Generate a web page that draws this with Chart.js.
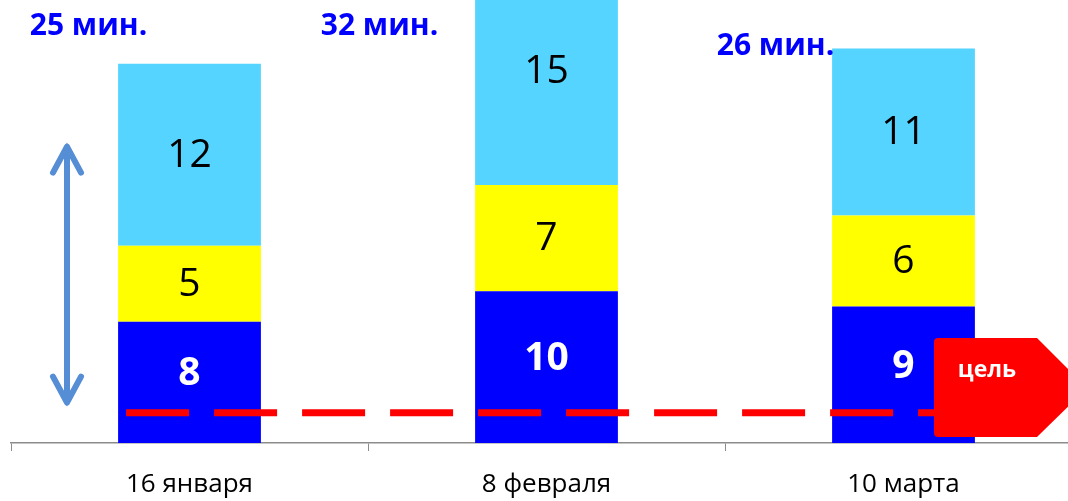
<!DOCTYPE html>
<html lang="ru">
<head>
<meta charset="UTF-8">
<title>Время</title>
<script src="https://cdnjs.cloudflare.com/ajax/libs/Chart.js/4.4.1/chart.umd.min.js"></script>
<style>
    body { margin: 0; background: #fff; overflow: hidden; }
    .wrap { width: 1082px; height: 501px; position: relative; }
</style>
</head>
<body>
<div class="wrap"><canvas id="chart"></canvas></div>
<script>
// Data
const dates = ['16 января', '8 февраля', '10 марта'];
const partA = [8, 10, 9];    // синий
const partB = [5, 7, 6];     // жёлтый
const partC = [12, 15, 11];  // голубой
const totals = [25, 32, 26];
const goal = 2;
const arrowRange = [2.4, 19.8];

const FONT = '"Open Sans", "Noto Sans", sans-serif';

// labels, goal line, arrow and the "цель" tag
const decor = {
    id: 'decor',
    afterDatasetsDraw(chart) {
        const ctx = chart.ctx;
        const y = chart.scales.y;

        // segment values (centre of the unclipped segment)
        chart.data.datasets.forEach((ds, di) => {
            chart.getDatasetMeta(di).data.forEach((bar, i) => {
                const cy = (bar.y + bar.base) / 2 + (di === 0 ? -8 : 1);
                ctx.save();
                ctx.font = (di === 0 ? 'bold ' : '') + '39px ' + FONT;
                ctx.fillStyle = di === 0 ? '#fff' : '#000';
                ctx.textAlign = 'center';
                ctx.textBaseline = 'middle';
                ctx.fillText(ds.data[i], bar.x, cy);
                ctx.restore();
            });
        });

        // totals
        const dx = [-101, -167, -128];
        const ty = [26, 26, 46];
        const meta = chart.getDatasetMeta(0);
        totals.forEach((t, i) => {
            ctx.save();
            ctx.font = 'bold 30px ' + FONT;
            ctx.fillStyle = '#0000ff';
            ctx.textAlign = 'center';
            ctx.textBaseline = 'middle';
            ctx.fillText(t + ' мин.', meta.data[i].x + dx[i], ty[i]);
            ctx.restore();
        });

        // goal line
        const first = meta.data[0];
        const gy = y.getPixelForValue(goal);
        ctx.save();
        ctx.strokeStyle = '#ff0000';
        ctx.lineWidth = 7;
        ctx.setLineDash([63, 25]);
        ctx.beginPath();
        ctx.moveTo(first.x - first.width / 2 + 8, gy);
        ctx.lineTo(1000, gy);
        ctx.stroke();
        ctx.restore();

        // double arrow
        const ax = 67;
        const a1 = y.getPixelForValue(arrowRange[1]);
        const a0 = y.getPixelForValue(arrowRange[0]);
        ctx.save();
        ctx.strokeStyle = '#558ed5';
        ctx.fillStyle = '#558ed5';
        ctx.lineWidth = 6;
        ctx.lineCap = 'round';
        ctx.lineJoin = 'round';
        ctx.beginPath();
        ctx.moveTo(ax, a1 + 6);
        ctx.lineTo(ax, a0 - 6);
        ctx.moveTo(ax - 14, a1 + 30);
        ctx.lineTo(ax, a1 + 4);
        ctx.lineTo(ax + 14, a1 + 30);
        ctx.moveTo(ax - 14, a0 - 30);
        ctx.lineTo(ax, a0 - 4);
        ctx.lineTo(ax + 14, a0 - 30);
        ctx.stroke();
        ctx.beginPath();
        ctx.moveTo(ax, a1);
        ctx.lineTo(ax - 7, a1 + 16);
        ctx.lineTo(ax + 7, a1 + 16);
        ctx.closePath();
        ctx.moveTo(ax, a0);
        ctx.lineTo(ax - 7, a0 - 16);
        ctx.lineTo(ax + 7, a0 - 16);
        ctx.closePath();
        ctx.fill();
        ctx.restore();

        // tag
        ctx.save();
        ctx.fillStyle = '#ff0000';
        ctx.beginPath();
        ctx.moveTo(938, 338);
        ctx.lineTo(1037, 338);
        ctx.lineTo(1087, 388);
        ctx.lineTo(1037, 437);
        ctx.lineTo(938, 437);
        ctx.quadraticCurveTo(934, 437, 934, 433);
        ctx.lineTo(934, 342);
        ctx.quadraticCurveTo(934, 338, 938, 338);
        ctx.fill();
        ctx.font = 'bold 23px ' + FONT;
        ctx.fillStyle = '#fff';
        ctx.textAlign = 'center';
        ctx.textBaseline = 'middle';
        ctx.fillText('цель', 987, 370);
        ctx.restore();
    }
};

new Chart(document.getElementById('chart'), {
    type: 'bar',
    data: {
        labels: dates,
        datasets: [
            { data: partA, backgroundColor: '#0000ff' },
            { data: partB, backgroundColor: '#ffff00' },
            { data: partC, backgroundColor: '#55d4ff' }
        ]
    },
    options: {
        responsive: true,
        maintainAspectRatio: false,
        animation: false,
        events: [],
        layout: { padding: { left: 11, right: 0, top: 0, bottom: 0 } },
        datasets: { bar: { categoryPercentage: 1, barPercentage: 0.4 } },
        plugins: { legend: { display: false }, tooltip: { enabled: false } },
        scales: {
            x: {
                stacked: true,
                afterFit: s => { s.height = 58; },
                grid: { offset: true, drawOnChartArea: false, drawTicks: true, tickLength: 8, color: '#8c8c8c' },
                border: { display: true, color: '#8c8c8c', width: 1.5 },
                ticks: { color: '#000', font: { family: FONT, size: 26 }, padding: 18 }
            },
            y: {
                stacked: true,
                display: false,
                min: 0,
                max: 29.2
            }
        }
    },
    plugins: [decor]
});
</script>
</body>
</html>
